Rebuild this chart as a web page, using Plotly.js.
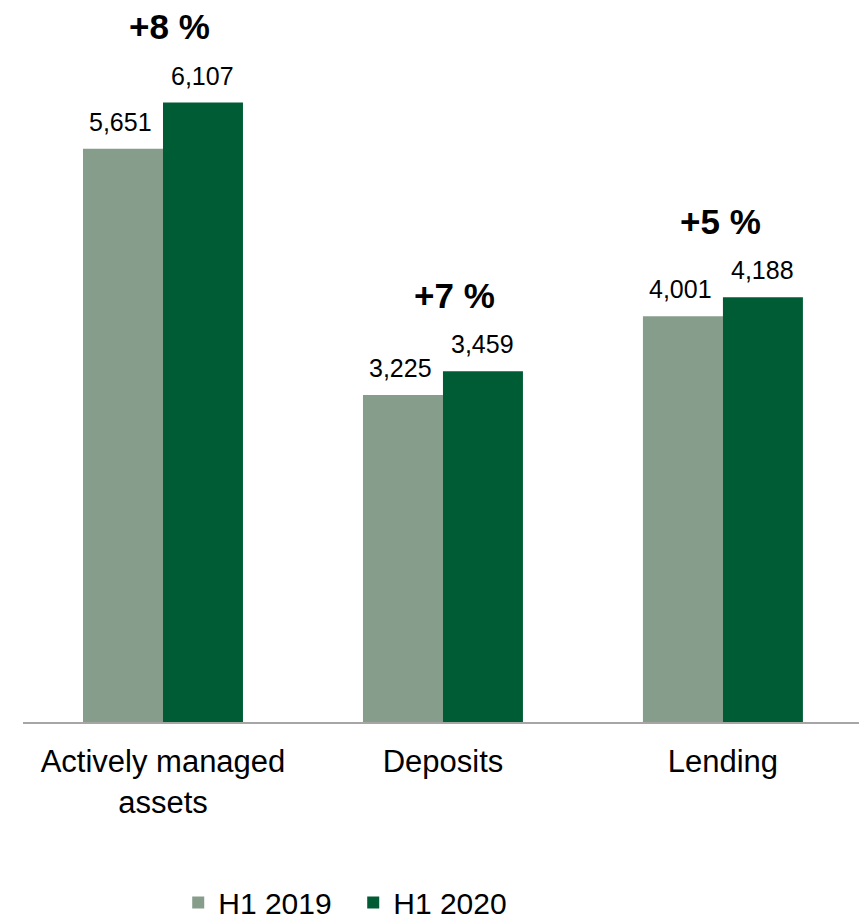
<!DOCTYPE html>
<html>
<head>
<meta charset="utf-8">
<script src="https://cdn.plot.ly/plotly-3.0.1.min.js"></script>
<style>
  html, body { margin: 0; padding: 0; background: #fff; }
  #chart { width: 859px; height: 924px; }
</style>
</head>
<body>
<div id="chart"></div>
<script>
// Volumes by business area, first half of the year
const categories = ["Actively managed<br>assets", "Deposits", "Lending"];
const seriesNames = ["H1 2019", "H1 2020"];
const h1_2019 = [5651, 3225, 4001];
const h1_2020 = [6107, 3459, 4188];
const growthLabels = ["+8 %", "+7 %", "+5 %"];

const FONT = "Liberation Sans, Arial, sans-serif";
const COLORS = ["#879d8b", "#005c35"];

const fmt = v => v.toLocaleString("en-US");

const traces = [h1_2019, h1_2020].map((vals, i) => ({
  type: "bar",
  name: seriesNames[i],
  x: categories,
  y: vals,
  marker: { color: COLORS[i], line: { width: 0 } },
  hoverinfo: "skip"
}));

const annotations = [];
// value labels above each bar
[h1_2019, h1_2020].forEach((vals, s) => {
  vals.forEach((v, i) => {
    annotations.push({
      x: categories[i], y: v, xref: "x", yref: "y",
      text: fmt(v), showarrow: false,
      xshift: s === 0 ? -42 : 40, yshift: 27,
      yanchor: "middle",
      font: { family: FONT, size: 25, color: "#000" }
    });
  });
});
// growth labels above each group
const growthShift = [7, 12, -2];
growthLabels.forEach((g, i) => {
  annotations.push({
    x: categories[i], y: Math.max(h1_2019[i], h1_2020[i]), xref: "x", yref: "y",
    text: "<b>" + g + "</b>", showarrow: false,
    xshift: growthShift[i], yshift: 76,
    yanchor: "middle",
    font: { family: FONT, size: 35, color: "#000" }
  });
});

const layout = {
  width: 859, height: 924,
  margin: { l: 23, r: 0, t: 12, b: 202, autoexpand: false },
  paper_bgcolor: "#fff", plot_bgcolor: "#fff",
  barmode: "group",
  bargap: 0.4286,
  bargroupgap: 0,
  showlegend: true,
  legend: {
    orientation: "h",
    x: 0.395, xanchor: "center",
    y: -0.291, yanchor: "bottom",
    font: { family: FONT, size: 30, color: "#000" },
    itemwidth: 30,
    entrywidth: 130,
    tracegroupgap: 0,
    traceorder: "normal"
  },
  xaxis: {
    type: "category",
    range: [-0.5, 2.486],
    showline: true, linecolor: "#a6a6a6", linewidth: 2,
    showgrid: false, zeroline: false,
    automargin: false,
    ticks: "outside", ticklen: 11, tickcolor: "rgba(0,0,0,0)",
    tickfont: { family: FONT, size: 31, color: "#000" },
    fixedrange: true
  },
  yaxis: {
    range: [0, 7000],
    visible: false,
    automargin: false,
    showgrid: false, zeroline: false,
    fixedrange: true
  },
  annotations: annotations,
  font: { family: FONT }
};

Plotly.newPlot("chart", traces, layout, { displayModeBar: false, staticPlot: true });
</script>
</body>
</html>
